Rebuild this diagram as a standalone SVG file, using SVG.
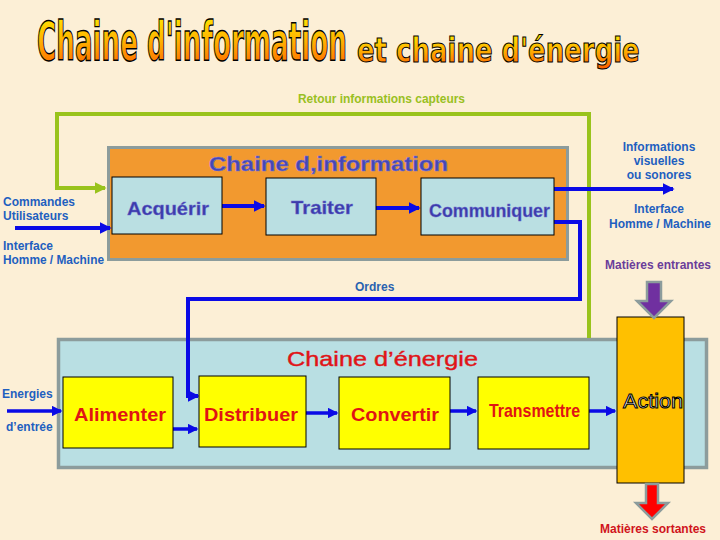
<svg xmlns="http://www.w3.org/2000/svg" width="720" height="540" viewBox="0 0 720 540">
<defs>
<linearGradient id="tg" x1="0" y1="0" x2="0" y2="1">
<stop offset="0" stop-color="#FFF200"/>
<stop offset="0.5" stop-color="#FFB000"/>
<stop offset="1" stop-color="#FF5A00"/>
</linearGradient>
<marker id="ab" markerWidth="3" markerHeight="3" refX="2.6" refY="1.5" orient="auto" markerUnits="strokeWidth">
<path d="M0,0 L3,1.5 L0,3 z" fill="#0A0AE6"/>
</marker>
<marker id="ag" markerWidth="3" markerHeight="3" refX="2.6" refY="1.5" orient="auto" markerUnits="strokeWidth">
<path d="M0,0 L3,1.5 L0,3 z" fill="#99C31C"/>
</marker>
<style>
.lbl{font-family:"Liberation Sans",Arial,sans-serif;font-weight:bold;font-size:12px;fill:#1F5FC0}
.blue{fill:none;stroke:#0A0AE6;stroke-width:4;marker-end:url(#ab)}
.blue3{fill:none;stroke:#0A0AE6;stroke-width:3.5;marker-end:url(#ab)}
.ibox{fill:#BADFE2;stroke:#000;stroke-width:1}
.ybox{fill:#FFFF00;stroke:#000;stroke-width:1}
.itxt{font-family:"Liberation Sans",Arial,sans-serif;font-weight:bold;font-size:19px;fill:#3C3CAA;stroke:#6A6AD0;stroke-width:0.4}
.etxt{font-family:"Liberation Sans",Arial,sans-serif;font-weight:bold;font-size:19px;fill:#E01414}
.ttl{font-family:"DejaVu Sans Condensed","Liberation Sans",sans-serif;font-weight:bold;fill:url(#tg);stroke:#000}
</style>
</defs>
<rect x="0" y="0" width="720" height="540" fill="#FCEFD6"/>

<g id="title">
<text class="ttl" transform="translate(37,60) scale(0.54,1)" x="0" y="0" font-size="54" stroke-width="1.4" textLength="574" lengthAdjust="spacingAndGlyphs">Chaine d'information</text>
<text class="ttl" transform="translate(357,62) scale(0.87,1)" x="0" y="0" font-size="33" stroke-width="1" textLength="325" lengthAdjust="spacingAndGlyphs">et chaine d'énergie</text>
</g>

<g id="chaine-information">
<rect x="108.5" y="147.5" width="459" height="112" fill="#F2992F" stroke="#8C9C9C" stroke-width="3"/>
<text x="209" y="171" font-family="Liberation Sans,Arial,sans-serif" font-weight="bold" font-size="21" textLength="239" lengthAdjust="spacingAndGlyphs" fill="#4646B4" stroke="#7A7AD8" stroke-width="0.5">Chaine d,information</text>
</g>

<g id="chaine-energie">
<rect x="58.5" y="339.5" width="648" height="128" fill="#B9DFE3" stroke="#8C9C9C" stroke-width="3.5"/>
<text x="287" y="366" font-family="Liberation Sans,Arial,sans-serif" font-size="21" textLength="191" lengthAdjust="spacingAndGlyphs" fill="#E01418" stroke="#E01418" stroke-width="0.4">Chaine d’énergie</text>
</g>

<g id="connectors">
<path d="M589,338 V114 H57 V188 H105" fill="none" stroke="#99C31C" stroke-width="4" marker-end="url(#ag)"/>
<path class="blue" d="M15,228 H110"/>
<path class="blue" d="M222,206 H264"/>
<path class="blue" d="M376,208 H419"/>
<path class="blue" d="M554,189 H673"/>
<path class="blue" d="M554,222 H580 V299 H188 V396 H198"/>
<path class="blue3" d="M7,411 H61"/>
<path class="blue3" d="M173,429 H197"/>
<path class="blue3" d="M306,413 H337"/>
<path class="blue3" d="M450,411 H476"/>
<path class="blue3" d="M589,411 H615"/>
</g>

<g id="acquerir">
<rect class="ibox" x="112" y="177" width="110" height="57"/>
<text class="itxt" x="127" y="215" textLength="82" lengthAdjust="spacingAndGlyphs">Acquérir</text>
</g>
<g id="traiter">
<rect class="ibox" x="266" y="178" width="110" height="57"/>
<text class="itxt" x="291" y="214" textLength="62" lengthAdjust="spacingAndGlyphs">Traiter</text>
</g>
<g id="communiquer">
<rect class="ibox" x="421" y="178" width="133" height="57"/>
<text class="itxt" x="429" y="217" textLength="121" lengthAdjust="spacingAndGlyphs">Communiquer</text>
</g>

<g id="alimenter">
<rect class="ybox" x="63" y="377" width="110" height="71"/>
<text class="etxt" x="74" y="421" textLength="92" lengthAdjust="spacingAndGlyphs">Alimenter</text>
</g>
<g id="distribuer">
<rect class="ybox" x="199" y="376" width="107" height="71"/>
<text class="etxt" x="204" y="421" textLength="94" lengthAdjust="spacingAndGlyphs">Distribuer</text>
</g>
<g id="convertir">
<rect class="ybox" x="339" y="377" width="111" height="72"/>
<text class="etxt" x="351" y="421" textLength="88" lengthAdjust="spacingAndGlyphs">Convertir</text>
</g>
<g id="transmettre">
<rect class="ybox" x="478" y="377" width="111" height="72"/>
<text class="etxt" x="489" y="417" font-size="15" textLength="91" lengthAdjust="spacingAndGlyphs">Transmettre</text>
</g>
<g id="action">
<rect x="617" y="317" width="67" height="166" fill="#FFC000" stroke="#000" stroke-width="1"/>
<text x="623" y="408" font-family="Liberation Sans,Arial,sans-serif" font-size="20" textLength="60" lengthAdjust="spacingAndGlyphs" fill="#FFFFFF" stroke="#000" stroke-width="1">Action</text>
</g>

<g id="matieres-entrantes-arrow">
<path d="M647,282 H661 V301 H671 L654,318 L637,301 H647 Z" fill="#7030A0" stroke="#8C9C9C" stroke-width="2.5"/>
</g>
<g id="matieres-sortantes-arrow">
<path d="M646,484 H658 V503 H668 L652,519 L636,503 H646 Z" fill="#FF0000" stroke="#8C9C9C" stroke-width="2.5"/>
</g>

<g id="labels">
<text x="298" y="103" font-family="Liberation Sans,Arial,sans-serif" font-weight="bold" font-size="12" fill="#99C022" textLength="167" lengthAdjust="spacingAndGlyphs">Retour informations capteurs</text>
<text class="lbl" x="3" y="206">Commandes</text>
<text class="lbl" x="3" y="220">Utilisateurs</text>
<text class="lbl" x="3" y="250">Interface</text>
<text class="lbl" x="3" y="264" textLength="101" lengthAdjust="spacingAndGlyphs">Homme / Machine</text>
<text class="lbl" x="659" y="151" text-anchor="middle">Informations</text>
<text class="lbl" x="659" y="165" text-anchor="middle">visuelles</text>
<text class="lbl" x="659" y="179" text-anchor="middle">ou sonores</text>
<text class="lbl" x="659" y="213" text-anchor="middle">Interface</text>
<text class="lbl" x="660" y="228" text-anchor="middle">Homme / Machine</text>
<text class="lbl" x="658" y="269" text-anchor="middle" style="fill:#6A3D9A">Matières entrantes</text>
<text class="lbl" x="355" y="291" style="fill:#2A62B0">Ordres</text>
<text class="lbl" x="2" y="398">Energies</text>
<text class="lbl" x="6" y="431">d’entrée</text>
<text class="lbl" x="653" y="533" text-anchor="middle" style="fill:#D0141C">Matières sortantes</text>
</g>
</svg>
